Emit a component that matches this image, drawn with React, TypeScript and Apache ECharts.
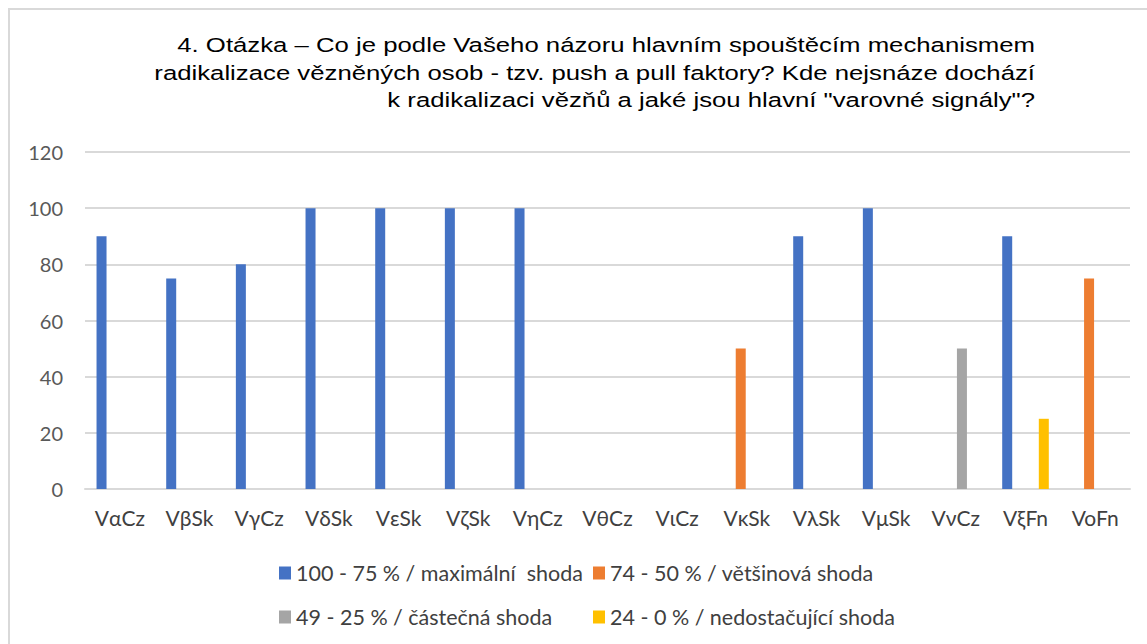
import React, { useEffect, useRef } from "react";
import * as echarts from "echarts";

const categories = ["VαCz", "VβSk", "VγCz", "VδSk", "VεSk", "VζSk", "VηCz", "VθCz", "VιCz", "VκSk", "VλSk", "VμSk", "VνCz", "VξFn", "VoFn"];
const seriesNames = [
  "100 - 75 % / maximální  shoda",
  "74 - 50 % / většinová shoda",
  "49 - 25 % / částečná shoda",
  "24 - 0 % / nedostačující shoda",
];
const maxShoda = [90, 75, 80, 100, 100, 100, 100, null, null, null, 90, 100, null, 90, null];
const vetsinova = [null, null, null, null, null, null, null, null, null, 50, null, null, null, null, 75];
const castecna = [null, null, null, null, null, null, null, null, null, null, null, null, 50, null, null];
const nedostacujici = [null, null, null, null, null, null, null, null, null, null, null, null, null, 25, null];
const colors = ["#4472C4", "#ED7D31", "#A5A5A5", "#FFC000"];
const titleLines = [
  "4. Otázka – Co je podle Vašeho názoru hlavním spouštěcím mechanismem",
  "radikalizace vězněných osob - tzv. push a pull faktory? Kde nejsnáze dochází",
  "k radikalizaci vězňů a jaké jsou hlavní \"varovné signály\"?",
];

const FONT = "Lato, 'Liberation Sans', sans-serif";

export default function App() {
  const ref = useRef<HTMLDivElement>(null);
  useEffect(() => {
    if (!ref.current) return;
    const chart = echarts.init(ref.current, undefined, { renderer: "svg" });
    const allData = [maxShoda, vetsinova, castecna, nedostacujici];
    const legendPos = [
      { left: 274, top: 557 },
      { left: 588, top: 557 },
      { left: 274, top: 601 },
      { left: 588, top: 601 },
    ];
    chart.setOption({
      animation: false,
      backgroundColor: "#ffffff",
      legend: seriesNames.map((n, i) => ({
        data: [n],
        left: legendPos[i].left,
        top: legendPos[i].top,
        itemWidth: 12,
        itemHeight: 13,
        icon: "rect",
        textStyle: { fontFamily: FONT, fontSize: 21.5, color: "#404040" },
      })),
      grid: { left: 85, right: 17, top: 152, bottom: 155, containLabel: false },
      xAxis: {
        type: "category",
        data: categories,
        axisLine: { lineStyle: { color: "#d9d9d9", width: 2 } },
        axisTick: { show: false },
        axisLabel: { fontFamily: FONT, fontSize: 21, color: "#404040", margin: 18, interval: 0 },
      },
      yAxis: {
        type: "value",
        min: 0,
        max: 120,
        interval: 20,
        axisLine: { show: false },
        axisTick: { show: false },
        splitLine: { lineStyle: { color: "#d9d9d9", width: 2 } },
        axisLabel: { fontFamily: FONT, fontSize: 20, color: "#595959", margin: 22 },
      },
      series: allData.map((d, i) => ({
        name: seriesNames[i],
        type: "bar",
        data: d,
        barWidth: 10,
        barGap: "22%",
        itemStyle: { color: colors[i] },
      })),
      graphic: [
        {
          type: "rect",
          shape: { x: 9, y: 9, width: 1160, height: 660 },
          style: { fill: "none", stroke: "#d9d9d9", lineWidth: 2 },
          silent: true,
        },
        {
          type: "text",
          x: 1035,
          y: 32,
          scaleX: 1.32,
          scaleY: 1,
          silent: true,
          style: {
            text: titleLines.join("\n"),
            fontFamily: "'Liberation Sans', Arial, sans-serif",
            fontSize: 19.5,
            lineHeight: 27.3,
            fill: "#000000",
            align: "right",
            verticalAlign: "top",
          },
        },
      ],
    });
    return () => chart.dispose();
  }, []);
  return <div ref={ref} style={{ position: "absolute", left: 0, top: 0, width: 1147, height: 644 }} />;
}
